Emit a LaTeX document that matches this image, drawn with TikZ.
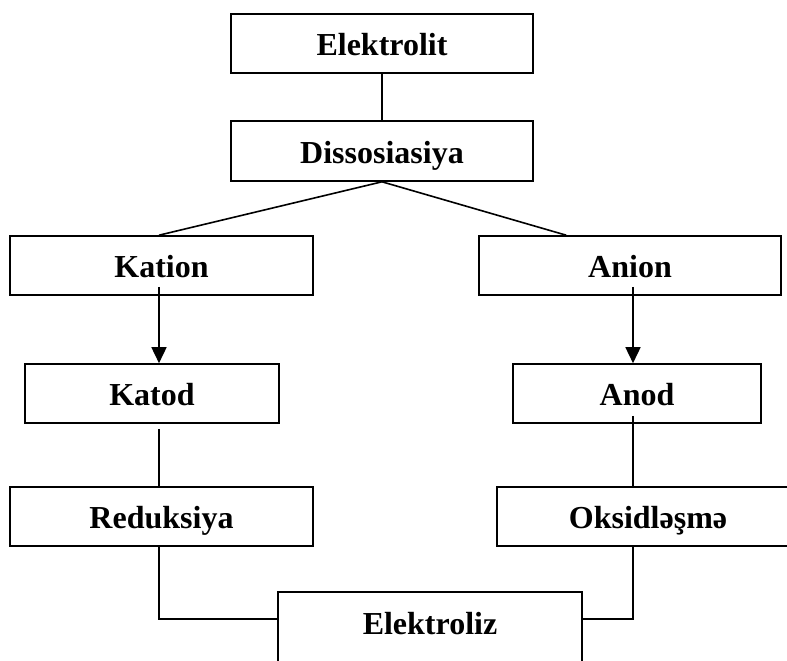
\documentclass[tikz,border=0pt]{standalone}
\usepackage{fontspec}
\setmainfont{Liberation Serif}
\usetikzlibrary{arrows.meta,calc}
\tikzset{
    >={Triangle[width=15pt,length=16pt]},
    every picture/.style={line width=1.6pt},
    stage/.style={rectangle,draw,inner sep=0pt,minimum height=59pt,
        font=\fontsize{32}{38}\selectfont\bfseries,text height=24.5pt,text depth=0pt}
}

\begin{document}
\begin{tikzpicture}[x=1pt,y=-1pt]
    \useasboundingbox (0,0) rectangle (787,661);
    \clip (0,0) rectangle (787,661);
    \coordinate (leftcol) at (159,0);
    \coordinate (rightcol) at (633,0);
    \node[stage,minimum width=302pt] (elektrolit) at (382,43.5) {Elektrolit};
    \node[stage,minimum width=302pt,minimum height=60pt] (dissosiasiya) at (382,151) {Dissosiasiya};
    \node[stage,minimum width=303pt] (kation) at (161.5,265.5) {Kation};
    \node[stage,minimum width=302pt] (anion) at (630,265.5) {Anion};
    \node[stage,minimum width=254pt] (katod) at (152,393.5) {Katod};
    \node[stage,minimum width=248pt] (anod) at (637,393.5) {Anod};
    \node[stage,minimum width=303pt] (reduksiya) at (161.5,516.5) {Reduksiya};
    \node[stage,minimum width=302pt] (oksidlesme) at (648,516.5) {Oksidləşmə};
    \node[stage,minimum width=304pt,minimum height=96pt,text depth=36pt] (elektroliz) at (430,640) {Elektroliz};
    % tree part
    \draw (elektrolit.south) -- (dissosiasiya.north);
    \draw (dissosiasiya.south) -- (kation.north -| leftcol);
    \draw (dissosiasiya.south) -- ($(anion.north west)+(88,0)$);
    \draw[->] ($(kation.south -| leftcol)+(0,-9)$) -- (katod.north -| leftcol);
    \draw[->] ($(anion.south -| rightcol)+(0,-9)$) -- (anod.north -| rightcol);
    \draw ($(katod.south -| leftcol)+(0,5)$) -- (reduksiya.north -| leftcol);
    \draw ($(anod.south -| rightcol)+(0,-8)$) -- (oksidlesme.north -| rightcol);
    % joining at the bottom
    \draw (reduksiya.south -| leftcol) |- ($(elektroliz.north west)+(0,28)$);
    \draw (oksidlesme.south -| rightcol) |- ($(elektroliz.north east)+(0,28)$);
\end{tikzpicture}
\end{document}
